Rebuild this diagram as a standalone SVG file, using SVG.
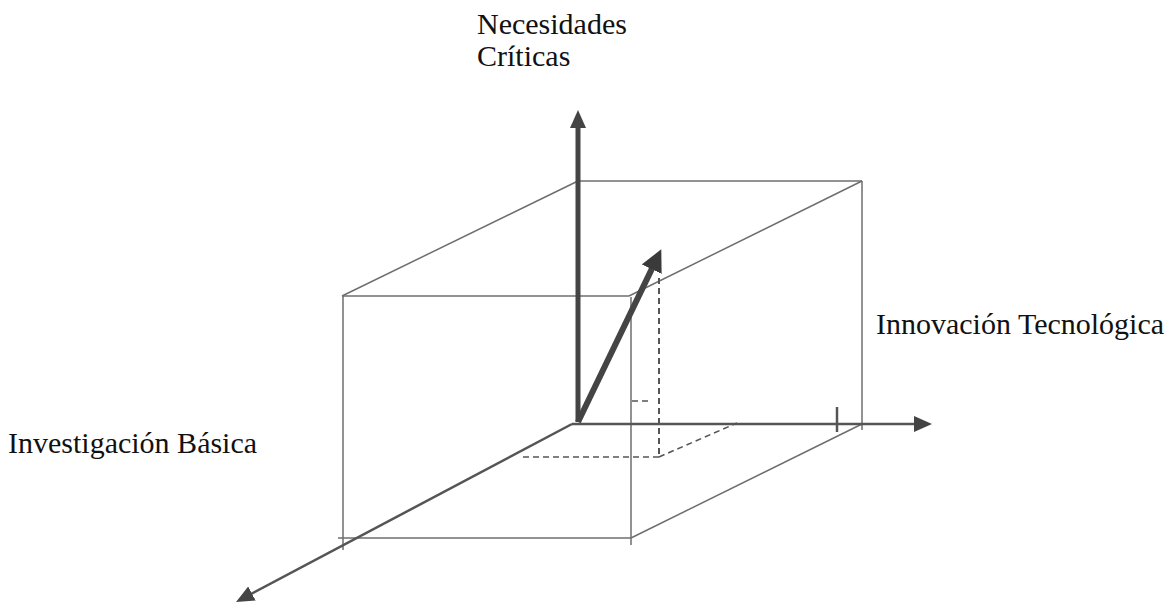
<svg xmlns="http://www.w3.org/2000/svg" width="1169" height="602" viewBox="0 0 1169 602">
<style>
.box{stroke:#6e6e6e;stroke-width:1.5;fill:none}
.dash{stroke:#555;stroke-width:1.6;fill:none;stroke-dasharray:6 4}
.axis{stroke:#555;stroke-width:2.5;fill:none}
.thick{stroke:#444;stroke-width:5;fill:none}
.lbl{font-family:"Liberation Serif","Times New Roman",serif;font-size:30px;fill:#111}
</style>
<defs>
<marker id="headS" viewBox="0 0 18 16" refX="4" refY="8" markerWidth="18" markerHeight="16" markerUnits="userSpaceOnUse" orient="auto">
<path d="M0,0 L18,8 L0,16 z" fill="#444"/>
</marker>
<marker id="headL" viewBox="0 0 22 22" refX="5" refY="11" markerWidth="22" markerHeight="22" markerUnits="userSpaceOnUse" orient="auto">
<path d="M0,0 L22,11 L0,22 z" fill="#3a3a3a"/>
</marker>
</defs>
<g id="box">
<line class="box" x1="342" y1="296" x2="629" y2="296"/>
<line class="box" x1="342" y1="296" x2="578" y2="181"/>
<line class="box" x1="578" y1="181" x2="862" y2="181"/>
<line class="box" x1="629" y1="296" x2="862" y2="181"/>
<line class="box" x1="343" y1="296" x2="343" y2="550"/>
<line class="box" x1="338" y1="538" x2="631" y2="538"/>
<line class="box" x1="631" y1="297" x2="631" y2="545"/>
<line class="box" x1="631" y1="538" x2="862" y2="424"/>
<line class="box" x1="862" y1="181" x2="862" y2="430"/>
<line class="box" x1="837" y1="407" x2="837" y2="432" style="stroke-width:2.5;stroke:#555"/>
</g>
<g id="projection">
<line class="dash" x1="659" y1="278" x2="659" y2="457" style="stroke-width:2"/>
<line class="dash" x1="523" y1="457" x2="659" y2="457"/>
<line class="dash" x1="659" y1="457" x2="737" y2="423"/>
<line class="dash" x1="632" y1="401" x2="652" y2="401"/>
</g>
<g id="connectors">
<line class="axis" x1="572" y1="424" x2="918" y2="424" marker-end="url(#headS)"/>
<line class="axis" x1="572" y1="424" x2="248.4" y2="595.4" marker-end="url(#headS)"/>
<line class="thick" x1="578" y1="422" x2="578" y2="124" marker-end="url(#headS)"/>
<line class="thick" x1="578" y1="422" x2="653.9" y2="264.6" style="stroke-width:6" marker-end="url(#headL)"/>
</g>
<g id="label-necesidades">
<text class="lbl" x="477" y="34">Necesidades</text>
<text class="lbl" x="477" y="66">Críticas</text>
</g>
<g id="label-innovacion">
<text class="lbl" x="876" y="334">Innovación Tecnológica</text>
</g>
<g id="label-investigacion">
<text class="lbl" x="8" y="453">Investigación Básica</text>
</g>
</svg>
